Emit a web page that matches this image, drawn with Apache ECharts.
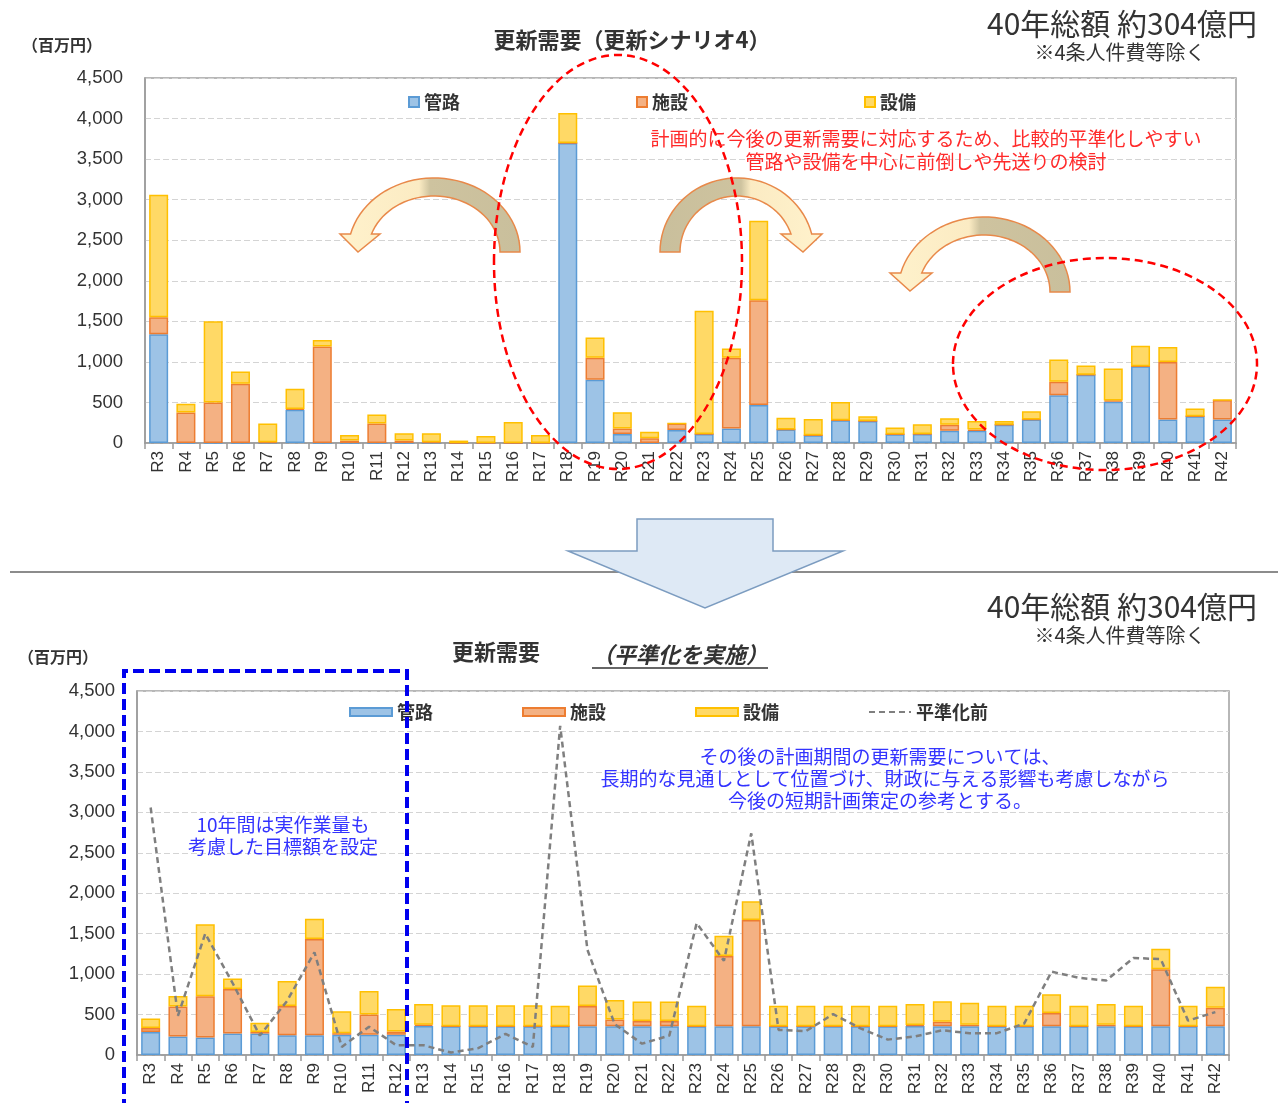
<!DOCTYPE html>
<html><head><meta charset="utf-8">
<script src="https://cdn.jsdelivr.net/npm/echarts@6/dist/echarts.min.js"></script>
<style>html,body{margin:0;padding:0;background:#fff}#c{width:1278px;height:1103px}</style>
</head><body><div id="c"></div>
<script>
const categories = ['R3','R4','R5','R6','R7','R8','R9','R10','R11','R12','R13','R14','R15','R16','R17','R18','R19','R20','R21','R22','R23','R24','R25','R26','R27','R28','R29','R30','R31','R32','R33','R34','R35','R36','R37','R38','R39','R40','R41','R42'];
const yTicks = [0,500,1000,1500,2000,2500,3000,3500,4000,4500];
// 上段：更新需要（更新シナリオ4）
const topPipe  = [1340,0,0,0,0,410,0,0,0,0,0,0,0,0,0,3700,780,110,0,160,110,180,470,165,95,280,270,107,110,150,150,225,290,590,840,510,945,290,330,290];
const topFac   = [210,375,500,730,10,10,1190,30,240,30,10,0,0,0,0,0,270,70,60,80,0,870,1290,0,0,0,0,0,0,75,15,0,0,165,0,15,0,710,0,240];
const topEquip = [1510,110,1000,150,230,250,80,70,110,90,110,30,85,260,100,370,250,200,80,0,1520,115,980,145,200,225,60,85,120,80,105,45,100,275,115,395,255,185,95,0];
// 下段：更新需要（平準化を実施）
const botPipe  = [285,230,215,265,265,245,245,250,250,250,360,355,355,355,355,355,355,355,355,355,355,355,355,355,355,355,355,355,360,355,355,355,355,355,355,355,355,355,355,355];
const botFac   = [50,370,510,550,20,360,1190,20,250,40,15,0,0,0,0,0,250,85,65,65,0,870,1315,0,0,0,0,0,10,55,20,0,0,165,0,20,0,705,0,230];
const botEquip = [115,130,890,130,115,310,250,270,290,280,255,260,260,260,260,255,255,240,240,240,255,250,230,255,255,255,255,255,260,255,270,255,255,230,255,255,255,255,255,260];
const before   = [3060,485,1500,890,240,670,1270,100,350,120,120,30,85,260,100,4070,1300,380,140,240,1630,1165,2740,310,295,505,330,190,230,305,270,270,390,1030,955,920,1200,1185,425,530];

const JP = '"Noto Sans CJK JP", "Liberation Sans", sans-serif';
const NUM = '"Liberation Sans", Arial, sans-serif';
const C = {
  pipe: {fill:'#9DC3E6', stroke:'#5B9BD5'},
  fac:  {fill:'#F4B183', stroke:'#ED7D31'},
  eq:   {fill:'#FFD966', stroke:'#FFC000'}
};
function fmt(v){ return String(v).replace(/\B(?=(\d{3})+(?!\d))/g, ','); }

function xAxis(gi){
  return {type:'category', gridIndex:gi, data:categories, boundaryGap:true,
    axisLine:{show:true, lineStyle:{color:'#9A9A9A', width:1.5}},
    axisTick:{show:true, interval:0, length:6, lineStyle:{color:'#9A9A9A', width:1.5}},
    axisLabel:{interval:0, rotate:90, fontSize:17, color:'#333', fontFamily:NUM, margin:8}};
}
function yAxis(gi){
  return {type:'value', gridIndex:gi, min:yTicks[0], max:yTicks[yTicks.length-1], interval:500,
    axisLine:{show:true, lineStyle:{color:'#9A9A9A', width:1.5}},
    axisTick:{show:false},
    axisLabel:{fontSize:18.5, color:'#333', fontFamily:NUM, margin:22, formatter:fmt},
    splitLine:{show:true, lineStyle:{color:'#D4D4D4', type:[6,3], width:1.2}}};
}
function bar(name, data, col, gi){
  return {name:name, type:'bar', stack:'s'+gi, xAxisIndex:gi, yAxisIndex:gi, data:data, barWidth:19,
    itemStyle:{color:col.fill, borderColor:col.stroke, borderWidth:1.5}, emphasis:{disabled:true}};
}
function txt(text, x, y, size, fill, opts){
  opts = opts || {};
  return {type:'text', z:50, style:Object.assign({text:text, x:x, y:y, fill:fill, fontSize:size, fontFamily:JP,
    textAlign:'center', textVerticalAlign:'middle'}, opts)};
}
function grad(reverse){
  const cream = '#FFF2CC', khaki = '#C9BF9C';
  const stops = reverse
    ? [{offset:0,color:khaki},{offset:0.5,color:'#CEC39F'},{offset:0.56,color:'#FBEBC3'},{offset:1,color:cream}]
    : [{offset:0,color:cream},{offset:0.44,color:'#FBEBC3'},{offset:0.5,color:'#CEC39F'},{offset:1,color:khaki}];
  return new echarts.graphic.LinearGradient(0,0,1,0,stops);
}
// elliptical arc points (decoration geometry only)
function arc(cx, cy, rx, ry, t0, t1, n){
  const pts = [];
  for (let i=0;i<=n;i++){
    const t = (t0 + (t1-t0)*i/n) * Math.PI/180;
    pts.push([cx + rx*Math.cos(t), cy - ry*Math.sin(t)]);
  }
  return pts;
}
function arrowLeft(cx, cy, ro, ri, hy, head){
  const to = 180 - Math.asin((cy-hy)/ro[1])*180/Math.PI;
  const ti = 180 - Math.asin((cy-hy)/ri[1])*180/Math.PI;
  return [].concat(arc(cx,cy,ro[0],ro[1],0,to,40), head, arc(cx,cy,ri[0],ri[1],ti,0,40));
}
function arrowRight(cx, cy, ro, ri, hy, head){
  const to = Math.asin((cy-hy)/ro[1])*180/Math.PI;
  const ti = Math.asin((cy-hy)/ri[1])*180/Math.PI;
  return [].concat(arc(cx,cy,ro[0],ro[1],180,to,40), head, arc(cx,cy,ri[0],ri[1],ti,180,40));
}

const chart = echarts.init(document.getElementById('c'), null, {renderer:'canvas'});
chart.setOption({
  animation:false,
  textStyle:{fontFamily:JP},
  grid:[
    {left:145, right:42, top:78, bottom:660, show:true, borderColor:'#A0A0A0', borderWidth:1.5, backgroundColor:'transparent'},
    {left:137, right:49, top:691, bottom:48, show:true, borderColor:'#A0A0A0', borderWidth:1.5, backgroundColor:'transparent'}
  ],
  legend:[
    {left:403, top:88, itemWidth:10, itemHeight:10, itemGap:176, icon:'rect', selectedMode:false,
     textStyle:{fontSize:18, fontWeight:'bold', color:'#333', fontFamily:JP},
     data:['管路','施設','設備']},
    {left:344, top:698, itemWidth:42, itemHeight:8, itemGap:89, selectedMode:false,
     textStyle:{fontSize:18, fontWeight:'bold', color:'#333', fontFamily:JP},
     data:[{name:'管路',icon:'rect'},{name:'施設',icon:'rect'},{name:'設備',icon:'rect'},
           {name:'平準化前', itemStyle:{opacity:0}}]}
  ],
  xAxis:[xAxis(0), xAxis(1)],
  yAxis:[yAxis(0), yAxis(1)],
  series:[
    bar('管路', topPipe, C.pipe, 0), bar('施設', topFac, C.fac, 0), bar('設備', topEquip, C.eq, 0),
    bar('管路', botPipe, C.pipe, 1), bar('施設', botFac, C.fac, 1), bar('設備', botEquip, C.eq, 1),
    {name:'平準化前', type:'line', xAxisIndex:1, yAxisIndex:1, data:before, symbol:'none', z:5,
     lineStyle:{color:'#7F7F7F', width:2.5, type:[6,4]}, itemStyle:{color:'#7F7F7F'}, emphasis:{disabled:true}}
  ],
  graphic:[
    {type:'line', z:40, shape:{x1:10, y1:572, x2:1278, y2:572}, style:{stroke:'#8C8C8C', lineWidth:2}},
    {type:'polygon', z:41, shape:{points:[[637,519],[773,519],[773,551],[843,551],[705,608],[568,551],[637,551]]},
     style:{fill:'#DEE9F5', stroke:'#7C9CC0', lineWidth:1.5}},
    {type:'polygon', z:45, shape:{points:arrowLeft(434,252,[86,74],[66,56],234,[[340,234],[358,252],[380,234]])},
     style:{fill:grad(false), stroke:'#E8894A', lineWidth:1.5}},
    {type:'polygon', z:45, shape:{points:arrowRight(737,252,[77,74],[57,56],234,[[822,234],[803,252],[781,234]])},
     style:{fill:grad(true), stroke:'#E8894A', lineWidth:1.5}},
    {type:'polygon', z:45, shape:{points:arrowLeft(984,292,[86,75],[66,57],273,[[890,273],[910,291],[932,273]])},
     style:{fill:grad(false), stroke:'#E8894A', lineWidth:1.5}},
    {type:'ellipse', z:46, shape:{cx:618, cy:262, rx:124, ry:207}, style:{fill:'none', stroke:'#FF0000', lineWidth:2.5, lineDash:[8,5]}},
    {type:'ellipse', z:46, shape:{cx:1105, cy:364, rx:152, ry:106}, style:{fill:'none', stroke:'#FF0000', lineWidth:2.5, lineDash:[8,5]}},
    {type:'polyline', z:46, shape:{points:[[124,1110],[124,671],[407,671],[407,1110]]}, style:{fill:'none', stroke:'#0000EE', lineWidth:4, lineDash:[11,5]}},
    txt('（百万円）', 62, 45, 16, '#333', {fontWeight:'bold'}),
    txt('更新需要（更新シナリオ4）', 632, 40, 22, '#333', {fontWeight:'bold'}),
    txt('40年総額 約304億円', 1257, 24, 30, '#333', {textAlign:'right'}),
    txt('※4条人件費等除く', 1120, 52, 20, '#333'),
    txt('計画的に今後の更新需要に対応するため、比較的平準化しやすい', 926, 139, 19, '#FF2A2A'),
    txt('管路や設備を中心に前倒しや先送りの検討', 926, 162, 19, '#FF2A2A'),
    txt('40年総額 約304億円', 1257, 607, 30, '#333', {textAlign:'right'}),
    txt('※4条人件費等除く', 1120, 635, 20, '#333'),
    txt('（百万円）', 58, 657, 16, '#333', {fontWeight:'bold'}),
    txt('更新需要', 496, 652, 22, '#333', {fontWeight:'bold'}),
    txt('（平準化を実施）', 680, 655, 22, '#333', {fontWeight:'bold', fontStyle:'italic'}),
    {type:'line', z:50, shape:{x1:592, y1:668, x2:768, y2:668}, style:{stroke:'#333', lineWidth:1.5}},
    txt('その後の計画期間の更新需要については、', 880, 757, 19, '#3333FF'),
    txt('長期的な見通しとして位置づけ、財政に与える影響も考慮しながら', 885, 779, 19, '#3333FF'),
    txt('今後の短期計画策定の参考とする。', 880, 801, 19, '#3333FF'),
    txt('10年間は実作業量も', 283, 825, 19, '#3333FF'),
    txt('考慮した目標額を設定', 283, 847, 19, '#3333FF')
  ]
});
</script></body></html>
